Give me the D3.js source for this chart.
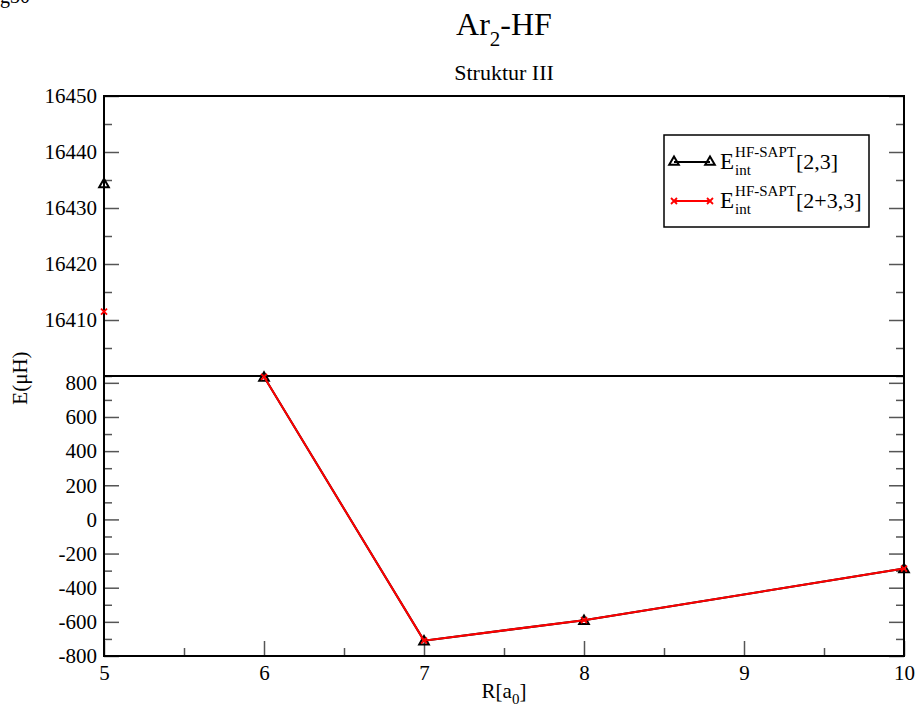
<!DOCTYPE html>
<html lang="en">
  <head>
    <meta charset="utf-8" />
    <script src="https://cdn.jsdelivr.net/npm/d3@7/dist/d3.min.js"></script>
    <title>Ar2-HF</title>
    <style>
      body { margin: 0; background: #fff; }
      svg text { font-family: "Liberation Serif", "DejaVu Serif", serif !important; fill: #000; }
      .tick line { stroke: #555; stroke-width: 1.5; }
      .tick text { font-size: 21px; }
    </style>
  </head>
  <body>
    <div id="container"></div>

    <script type="module">
      // R values and interaction energies
      const rLow = [6, 7, 8, 10];
      const e23Low = [835, -710, -590, -288];
      const e233Low = [835, -710, -590, -288];
      // point at R=5 (shown in upper, broken part of the axis)
      const rHigh = [5];
      const e23High = [16434.4];
      const e233High = [16411.5];

      const xTicks = [5, 6, 7, 8, 9, 10];
      const yTicksLow = [-800, -600, -400, -200, 0, 200, 400, 600, 800];
      const yTicksHigh = [16410, 16420, 16430, 16440, 16450];

      const width = 917;
      const height = 712;
      const left = 104, right = 904, top = 96, split = 376, bottom = 656;

      const svg = d3.select("#container").append("svg").attr("width", width).attr("height", height);

      const x = d3.scaleLinear().domain([5, 10]).range([left, right]);
      const yHigh = d3.scaleLinear().domain([16400, 16450]).range([split, top]);
      const yLow = d3.scaleLinear().domain([-800, 840]).range([bottom, split]);

      const fmt = (d) => String(d);
      const serif = "Liberation Serif";

      // ---- axes ----
      function yAxes(scale, majors, minorStep, labels) {
        const [d0, d1] = scale.domain();
        const minors = d3.range(Math.ceil(d0 / minorStep) * minorStep, d1 + 1e-9, minorStep).filter((v) => !majors.includes(v));
        svg.append("g").attr("transform", `translate(${left},0)`)
          .call(d3.axisLeft(scale).tickValues(labels).tickFormat(fmt).tickSize(-15).tickPadding(7))
          .attr("font-family", serif).attr("font-size", 21)
          .call((g) => g.select(".domain").remove());
        svg.append("g").attr("transform", `translate(${left},0)`)
          .call(d3.axisLeft(scale).tickValues(minors).tickFormat("").tickSize(-8))
          .call((g) => g.select(".domain").remove());
        svg.append("g").attr("transform", `translate(${right},0)`)
          .call(d3.axisRight(scale).tickValues(majors).tickFormat("").tickSize(-15))
          .call((g) => g.select(".domain").remove());
        svg.append("g").attr("transform", `translate(${right},0)`)
          .call(d3.axisRight(scale).tickValues(minors).tickFormat("").tickSize(-8))
          .call((g) => g.select(".domain").remove());
      }
      yAxes(yHigh, yTicksHigh, 5, yTicksHigh);
      yAxes(yLow, yTicksLow, 100, yTicksLow);

      svg.append("g").attr("transform", `translate(0,${bottom})`)
        .call(d3.axisBottom(x).tickValues(xTicks).tickFormat(fmt).tickSize(-15).tickPadding(9))
        .attr("font-family", serif).attr("font-size", 21)
        .call((g) => g.select(".domain").remove());
      svg.append("g").attr("transform", `translate(0,${bottom})`)
        .call(d3.axisBottom(x).tickValues(d3.range(5.5, 10, 1)).tickFormat("").tickSize(-8))
        .call((g) => g.select(".domain").remove());

      // frame + break line
      svg.append("rect").attr("x", left).attr("y", top).attr("width", right - left).attr("height", bottom - top)
        .attr("fill", "none").attr("stroke", "#000").attr("stroke-width", 2);
      svg.append("line").attr("x1", left).attr("x2", right).attr("y1", split).attr("y2", split)
        .attr("stroke", "#000").attr("stroke-width", 2);

      // ---- markers ----
      const tri = d3.symbol().type(d3.symbolTriangle).size(40);
      function triangles(xs, ys, scale) {
        svg.append("g").selectAll("path").data(xs).join("path")
          .attr("d", tri)
          .attr("transform", (d, i) => `translate(${x(d)},${scale(ys[i]) + 1})`)
          .attr("fill", "none").attr("stroke", "#000").attr("stroke-width", 2);
      }
      function crosses(xs, ys, scale) {
        svg.append("g").selectAll("path").data(xs).join("path")
          .attr("d", "M-3,-3L3,3M-3,3L3,-3")
          .attr("transform", (d, i) => `translate(${x(d)},${scale(ys[i])})`)
          .attr("fill", "none").attr("stroke", "#f00").attr("stroke-width", 1.8);
      }

      const line = (scale) => d3.line().x((d) => x(d[0])).y((d) => scale(d[1]));

      // black series
      svg.append("path").datum(d3.zip(rLow, e23Low)).attr("d", line(yLow))
        .attr("fill", "none").attr("stroke", "#000").attr("stroke-width", 2);
      triangles(rLow, e23Low, yLow);
      triangles(rHigh, e23High, yHigh);

      // red series
      svg.append("path").datum(d3.zip(rLow, e233Low)).attr("d", line(yLow))
        .attr("fill", "none").attr("stroke", "#f00").attr("stroke-width", 2);
      crosses(rLow, e233Low, yLow);
      crosses(rHigh, e233High, yHigh);

      // ---- titles ----
      const title = svg.append("text").attr("x", (left + right) / 2).attr("y", 35)
        .attr("text-anchor", "middle").style("font-size", "32px");
      title.append("tspan").text("Ar");
      title.append("tspan").attr("dy", 11).style("font-size", "21px").text("2");
      title.append("tspan").attr("dy", -11).text("-HF");

      svg.append("text").attr("x", (left + right) / 2).attr("y", 80)
        .attr("text-anchor", "middle").style("font-size", "22px").text("Struktur III");

      svg.append("text").attr("transform", `translate(27,378) rotate(-90)`)
        .attr("text-anchor", "middle").style("font-size", "21px").text("E(μH)");

      const xt = svg.append("text").attr("x", (left + right) / 2).attr("y", 698)
        .attr("text-anchor", "middle").style("font-size", "21px");
      xt.append("tspan").text("R[a");
      xt.append("tspan").attr("dy", 6).style("font-size", "15px").text("0");
      xt.append("tspan").attr("dy", -6).text("]");

      svg.append("text").attr("x", 0).attr("y", 3).style("font-size", "20px").text("g30");

      // ---- legend ----
      const legend = svg.append("g");
      legend.append("rect").attr("x", 664).attr("y", 135).attr("width", 205).attr("height", 92)
        .attr("fill", "#fff").attr("stroke", "#000").attr("stroke-width", 1.5);

      const entries = [
        { label: "[2,3]", color: "#000", marker: "tri", y: 162 },
        { label: "[2+3,3]", color: "#f00", marker: "x", y: 201 },
      ];
      entries.forEach((e) => {
        legend.append("line").attr("x1", 674).attr("x2", 710).attr("y1", e.y).attr("y2", e.y)
          .attr("stroke", e.color).attr("stroke-width", 2);
        [674, 710].forEach((mx) => {
          if (e.marker === "tri") {
            legend.append("path").attr("d", tri).attr("transform", `translate(${mx},${e.y})`)
              .attr("fill", "none").attr("stroke", "#000").attr("stroke-width", 2);
          } else {
            legend.append("path").attr("d", "M-3,-3L3,3M-3,3L3,-3").attr("transform", `translate(${mx},${e.y})`)
              .attr("fill", "none").attr("stroke", "#f00").attr("stroke-width", 1.8);
          }
        });
        const base = e.y + 7;
        const E = legend.append("text").attr("x", 720).attr("y", base).style("font-size", "23px").text("E");
        const ex = 720 + E.node().getComputedTextLength() + 1;
        const sup = legend.append("text").attr("x", ex).attr("y", base - 12).style("font-size", "15px").text("HF-SAPT");
        legend.append("text").attr("x", ex).attr("y", base + 6).style("font-size", "15px").text("int");
        legend.append("text").attr("x", ex + sup.node().getComputedTextLength()).attr("y", base)
          .style("font-size", "22px").text(e.label);
      });
    </script>
  </body>
</html>
